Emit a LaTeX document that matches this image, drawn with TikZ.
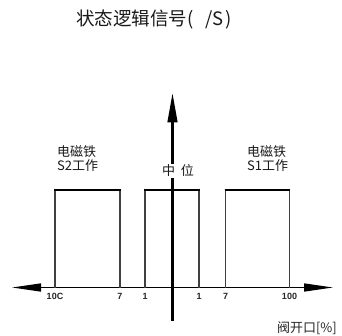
\documentclass[tikz,border=0pt]{standalone}
\usepackage{fontspec}
\setmainfont{Noto Sans CJK SC}
\newfontfamily\tickfont{Liberation Sans}
\usetikzlibrary{arrows.meta}
\tikzset{
  axis/.style={line width=1.4pt, black},
  side/.style={line width=1.6pt, black!75},
  topline/.style={line width=2.6pt, black},
  lbl/.style={inner sep=0pt, font=\fontsize{13}{14}\selectfont, text=black!90, align=left},
  tick/.style={inner sep=0pt, font=\tickfont\bfseries\fontsize{9}{9}\selectfont, text=black!85},
}
\begin{document}
\begin{tikzpicture}[x=1pt,y=-1pt]
\useasboundingbox (0,0) rectangle (342,336);
% title
\node[inner sep=0pt, anchor=west, font=\fontsize{18.5}{20}\selectfont, text=black!90] (title) at (76,20) {状态逻辑信号(\hspace{8pt} /S\hspace{1.5pt})};
% axes
\coordinate (xl) at (12,287.5);
\coordinate (xr) at (333,287.5);
\coordinate (yb) at (172.5,321);
\coordinate (yt) at (172.5,92.5);
\draw[axis, {Triangle[length=29pt,width=8pt]}-{Triangle[length=29pt,width=8pt]}] (xl) -- (xr);
% boxes
\foreach \n/\x in {a/55, b/120, c/145, d/199, e/225.5, f/289.5}{
  \coordinate (\n0) at (\x,287.5);
  \coordinate (\n1) at (\x,190);
}
\draw[side] (a0) -- (a1); \draw[side] (b0) -- (b1);
\draw[side] (c0) -- (c1); \draw[side] (d0) -- (d1);
\draw[side] (e0) -- (e1); \draw[side] (f0) -- (f1);
\draw[topline] ([xshift=-0.8pt]a1) -- ([xshift=0.8pt]b1);
\draw[topline] ([xshift=-0.8pt]c1) -- ([xshift=0.8pt]d1);
\draw[topline] ([xshift=-0.8pt]e1) -- ([xshift=0.8pt]f1);
% vertical axis
\draw[line width=3pt, black, -{Triangle[length=30pt,width=9.5pt]}] (yb) -- (yt);
% labels
\node[lbl, anchor=west] (s2) at (57,159) {电磁铁\\S2工作};
\node[lbl, anchor=west] (s1) at (247,159) {电磁铁\\S1工作};
\node[lbl, fill=white, inner sep=1pt] (mid) at (178,171) {中\hspace{3pt} 位};
\node[tick] (t1) at (55,296) {10C};
\node[tick] (t2) at (120,296) {7};
\node[tick] (t3) at (145,296) {1};
\node[tick] (t4) at (199,296) {1};
\node[tick] (t5) at (225.5,296) {7};
\node[tick] (t6) at (289.5,296) {100};
\node[inner sep=0pt, anchor=east, font=\fontsize{13}{14}\selectfont, text=black!85] (unit) at (337,328) {阀开口[\%]};
\end{tikzpicture}
\end{document}
